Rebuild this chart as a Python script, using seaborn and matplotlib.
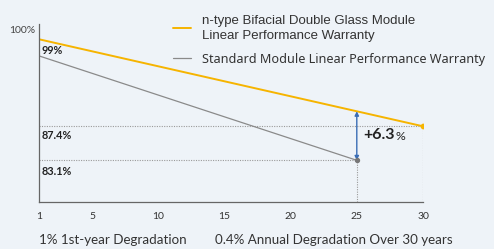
import matplotlib
matplotlib.use('Agg')
import matplotlib.pyplot as plt
import seaborn as sns
import pandas as pd

# values
ntype_years = [1, 30]
ntype_vals = [98.4, 87.4]
std_years = [1, 25]
std_vals = [96.3, 83.1]
x_ticks = [1, 5, 10, 15, 20, 25, 30]
ntype_label = 'n-type Bifacial Double Glass Module\nLinear Performance Warranty'
std_label = 'Standard Module Linear Performance Warranty'
gap_label = '+6.3'
bottom_left = '1% 1st-year Degradation'
bottom_right = '0.4% Annual Degradation Over 30 years'

YELLOW = '#f6b400'
GREY = '#8a8a8a'
BLUE = '#3a6db5'
BG = '#eef3f8'

sns.set_style('white')
plt.rcParams['font.family'] = ['Lato', 'DejaVu Sans']

fig = plt.figure(figsize=(4.94, 2.49), dpi=100, facecolor=BG)
ax = fig.add_axes([39/494, 1-202/249, (423-39)/494, (202-24)/249])
ax.set_facecolor(BG)

df_n = pd.DataFrame({'year': ntype_years, 'val': ntype_vals})
df_s = pd.DataFrame({'year': std_years, 'val': std_vals})
sns.lineplot(data=df_n, x='year', y='val', color=YELLOW, lw=1.4, ax=ax, label=ntype_label)
sns.lineplot(data=df_s, x='year', y='val', color=GREY, lw=0.9, ax=ax, label=std_label)
ax.scatter([ntype_years[-1]], [ntype_vals[-1]], s=10, color=YELLOW, zorder=5)
ax.scatter([std_years[-1]], [std_vals[-1]], s=8, color='#777777', zorder=5)

x0 = ntype_years[0]
x_end_n, y_end_n = ntype_years[-1], ntype_vals[-1]
x_end_s, y_end_s = std_years[-1], std_vals[-1]
ax.set_xlim(x0, x_end_n)
ax.set_ylim(77.83, 100.33)

dot = dict(color='#9a9a9a', ls=(0, (1, 1.2)), lw=0.8, zorder=1)
ax.plot([x0, x_end_n], [y_end_n, y_end_n], **dot)
ax.plot([x_end_n, x_end_n], [77.83, y_end_n], **dot)
ax.plot([x0, x_end_s], [y_end_s, y_end_s], **dot)
ax.plot([x_end_s, x_end_s], [77.83, y_end_s], **dot)

# gap arrow at year 25
y_n25 = ntype_vals[0] + (ntype_vals[1]-ntype_vals[0])*(x_end_s-x0)/(x_end_n-x0)
ax.annotate('', xy=(x_end_s, y_n25), xytext=(x_end_s, y_end_s),
            arrowprops=dict(arrowstyle='<|-|>', color=BLUE, lw=1.0,
                            mutation_scale=6, shrinkA=0, shrinkB=0))
gt = ax.text(x_end_s + 0.5, (y_n25 + y_end_s)/2 + 0.1, gap_label, fontsize=11.5, fontweight='bold',
             color='#222222', va='center', ha='left')
ax.annotate('%', xy=(1, 0), xycoords=gt, xytext=(0.3, 0.3), textcoords='offset points',
            fontsize=8.8, color='#222222', va='bottom', ha='left')

# value labels
lab = dict(fontsize=7.8, fontweight='bold', color='#222222', va='center')
ax.text(x0 + 0.2, 97.0, '99%', **lab)
ax.text(x0 + 0.2, y_end_n - 1.15, f'{y_end_n}%', **lab)
ax.text(x0 + 0.2, y_end_s - 1.4, f'{y_end_s}%', **lab)

ax.set_xticks(x_ticks)
ax.set_xticklabels([str(t) for t in x_ticks], fontsize=7.5, color='#333333')
ax.set_yticks([99.6])
ax.set_yticklabels(['100%'], fontsize=7.5, color='#444444')
ax.tick_params(length=0, pad=7)
ax.tick_params(axis='y', pad=3)
ax.set_xlabel('')
ax.set_ylabel('')
for side in ['top', 'right']:
    ax.spines[side].set_visible(False)
for side in ['left', 'bottom']:
    ax.spines[side].set_color('#666666')
    ax.spines[side].set_linewidth(0.9)

leg = ax.legend(loc='upper left', bbox_to_anchor=(173/494, 1-15/249), bbox_transform=fig.transFigure,
                frameon=False, handlelength=1.4, handletextpad=0.8,
                labelspacing=0.8, borderaxespad=0, borderpad=0,
                prop={'family': ['Liberation Sans', 'DejaVu Sans'], 'size': 9.5})
t_n, t_s = leg.get_texts()
t_n.set_color('#333333')
t_n.set_linespacing(1.35)
t_s.set_color('#333333')
t_s.set_family(['Noto Sans', 'DejaVu Sans'])
t_s.set_fontsize(9.1)

fig.text(39/494, 1-240/249, bottom_left, fontsize=9.6, color='#333333', va='center', ha='left')
fig.text(215/494, 1-240/249, bottom_right, fontsize=9.6, color='#333333', va='center', ha='left')

fig.savefig('out.png', dpi=100, facecolor=BG)
